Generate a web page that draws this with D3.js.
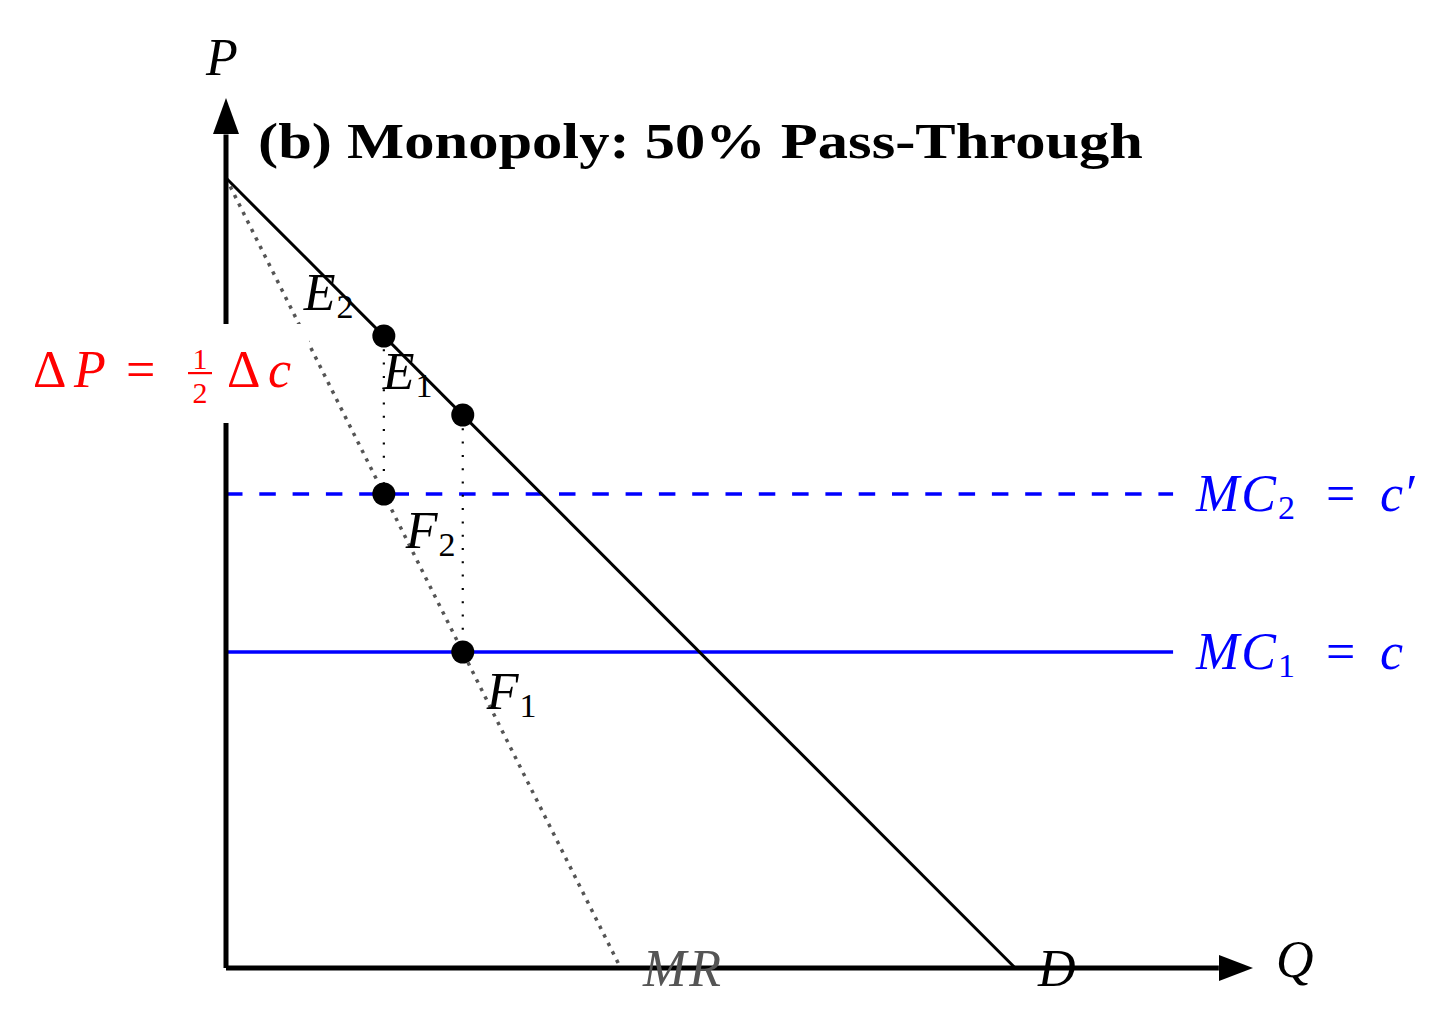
<!DOCTYPE html>
<html>
<head>
<meta charset="utf-8">
<script src="https://cdn.jsdelivr.net/npm/d3@7"></script>
<style>
  html, body { margin: 0; padding: 0; background: #ffffff; }
  svg { display: block; }
</style>
</head>
<body>
<script>
// ---- data (model units) ----
const chokePrice = 10;          // demand intercept on P axis
const demandQMax = 10;          // demand intercept on Q axis
const mrQMax = 5;               // MR intercept on Q axis
const mcValues = [4, 6];        // MC1 = c, MC2 = c'
const mcLabels = [["MC", "1", "c"], ["MC", "2", "c′"]];
const mcDashed = [false, true];
const mcQMax = 12;
const equilibria = [            // [Q, P]
  { name: "E", sub: "1", q: 3, p: 7 },
  { name: "E", sub: "2", q: 2, p: 8 }
];
const mrPoints = [
  { name: "F", sub: "1", q: 3, p: 4 },
  { name: "F", sub: "2", q: 2, p: 6 }
];
const axisQMax = 13;
const axisPMax = 11;
const titleText = "(b) Monopoly: 50% Pass-Through";

// ---- setup ----
const W = 1456, H = 1011;
const svg = d3.select("body").append("svg").attr("width", W).attr("height", H);
const x = d3.scaleLinear().domain([0, axisQMax]).range([226, 1252]);
const y = d3.scaleLinear().domain([0, axisPMax]).range([968, 99]);
const line = d3.line().x(d => x(d[0])).y(d => y(d[1]));
const mathFont = "'Liberation Serif', 'Times New Roman', serif";
const FS = 52, SUB = 34;

// MC lines
mcValues.forEach((c, i) => {
  svg.append("path")
    .attr("d", line([[0, c], [mcQMax, c]]))
    .attr("stroke", "#0000ff").attr("stroke-width", 3.5).attr("fill", "none")
    .attr("stroke-dasharray", mcDashed[i] ? "16.5,16.8" : null);
});

// vertical dotted guides E -> F
equilibria.forEach((e, i) => {
  const f = mrPoints[i];
  svg.append("path")
    .attr("d", line([[e.q, e.p], [f.q, f.p]]))
    .attr("stroke", "#000").attr("stroke-width", 2.2).attr("fill", "none")
    .attr("stroke-dasharray", "2,11.3");
});

// MR line
svg.append("path")
  .attr("d", line([[0, chokePrice], [mrQMax, 0]]))
  .attr("stroke", "#555").attr("stroke-width", 3.5).attr("fill", "none")
  .attr("stroke-dasharray", "3.5,6");

// Demand
svg.append("path")
  .attr("d", line([[0, chokePrice], [demandQMax, 0]]))
  .attr("stroke", "#000").attr("stroke-width", 3).attr("fill", "none");

// Axes
svg.append("path").attr("d", line([[0, 0], [0, axisPMax - 0.45]]))
  .attr("stroke", "#000").attr("stroke-width", 5).attr("fill", "none");
svg.append("path").attr("d", line([[0, 0], [axisQMax - 0.42, 0]]))
  .attr("stroke", "#000").attr("stroke-width", 5).attr("fill", "none");
// arrowheads
{
  const tx = x(0), ty = y(axisPMax);
  svg.append("path").attr("d", `M${tx},${ty - 1} L${tx - 13},${ty + 35} L${tx + 13},${ty + 35} Z`).attr("fill", "#000");
  const rx = x(axisQMax), ry = y(0);
  svg.append("path").attr("d", `M${rx + 1},${ry} L${rx - 33},${ry - 13} L${rx - 33},${ry + 13} Z`).attr("fill", "#000");
}

// white box behind ΔP label
svg.append("rect").attr("x", 12).attr("y", 324).attr("width", 297).attr("height", 99).attr("fill", "#fff");

// ΔP label
{
  const g = svg.append("g").attr("fill", "#ff0000").attr("font-family", mathFont).attr("font-size", FS);
  g.append("text").attr("x", 33).attr("y", 387).text("Δ");
  g.append("text").attr("x", 74).attr("y", 387).attr("font-style", "italic").text("P");
  g.append("text").attr("x", 126).attr("y", 387).text("=");
  g.append("text").attr("x", 200).attr("y", 369).attr("text-anchor", "middle").attr("font-size", 30).text("1");
  g.append("rect").attr("x", 188).attr("y", 372).attr("width", 24).attr("height", 2.2);
  g.append("text").attr("x", 200).attr("y", 403).attr("text-anchor", "middle").attr("font-size", 30).text("2");
  g.append("text").attr("x", 227).attr("y", 387).text("Δ");
  g.append("text").attr("x", 268).attr("y", 387).attr("font-style", "italic").text("c");
}

// points
const allPts = equilibria.concat(mrPoints);
svg.selectAll("circle.pt").data(allPts).enter().append("circle")
  .attr("cx", d => x(d.q)).attr("cy", d => y(d.p)).attr("r", 11.5).attr("fill", "#000");

// point labels
function subLabel(sel, name, sub, px, py, color, ls) {
  const t = sel.append("text").attr("x", px).attr("y", py)
    .attr("font-family", mathFont).attr("font-size", FS).attr("fill", color || "#000");
  t.append("tspan").attr("font-style", "italic").attr("letter-spacing", ls || 0).text(name);
  if (sub) t.append("tspan").attr("font-size", SUB).attr("dx", 1).attr("dy", 8).text(sub);
  return t;
}
equilibria.forEach(e => subLabel(svg, e.name, e.sub, x(e.q) - 80, y(e.p) - 26));
mrPoints.forEach((f, i) => subLabel(svg, f.name, f.sub, x(f.q) + (i === 0 ? 24 : 22), y(f.p) + (i === 0 ? 57 : 54)));

// MC labels
mcValues.forEach((c, i) => {
  const lab = mcLabels[i];
  const g = svg.append("g").attr("font-family", mathFont).attr("font-size", FS).attr("fill", "#0000ff");
  const t = g.append("text").attr("x", 1196).attr("y", y(c) + 17);
  t.append("tspan").attr("font-style", "italic").attr("letter-spacing", 2).text(lab[0]);
  t.append("tspan").attr("font-size", SUB).attr("dy", 8).text(lab[1]);
  g.append("text").attr("x", 1326).attr("y", y(c) + 17).text("=");
  g.append("text").attr("x", 1380).attr("y", y(c) + 17).attr("font-style", "italic").text(lab[2]);
});

// axis & curve labels
subLabel(svg, "P", null, 206, 75);
subLabel(svg, "Q", null, 1276, 977);
subLabel(svg, "D", null, 1038, 986);
subLabel(svg, "MR", null, 643, 986, "#555", 3);

// title
svg.append("text").attr("x", 258).attr("y", 158)
  .attr("font-family", mathFont).attr("font-weight", "bold").attr("font-size", 50)
  .attr("textLength", 885).attr("lengthAdjust", "spacingAndGlyphs")
  .text(titleText);
</script>
</body>
</html>
